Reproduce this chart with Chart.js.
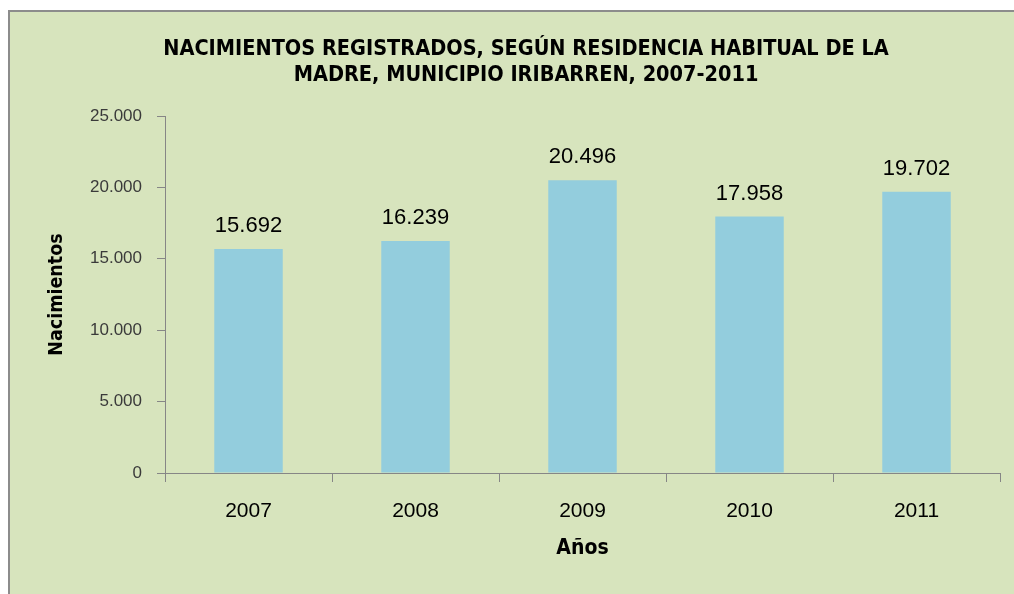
<!DOCTYPE html>
<html>
<head>
<meta charset="utf-8">
<script src="https://cdn.jsdelivr.net/npm/chart.js@4"></script>
<style>
  html, body { margin: 0; padding: 0; background: #fff; overflow: hidden; }
  #box {
    position: absolute; left: 8px; top: 10px;
    width: 1032px; height: 582px;
    border-left: 2px solid #8c8c8c; border-top: 2px solid #8c8c8c;
    background: #D7E4BD;
  }
</style>
</head>
<body>
<div id="box"><canvas id="births"></canvas></div>
<script>
// Nacimientos registrados, municipio Iribarren
const years = ['2007', '2008', '2009', '2010', '2011'];
const births = [15692, 16239, 20496, 17958, 19702];
const yTicks = [0, 5000, 10000, 15000, 20000, 25000];

const axisGrey = '#868686';
const narrow = '"Liberation Sans Narrow", "DejaVu Sans Condensed", sans-serif';
const sans = '"Liberation Sans", Arial, sans-serif';

function fmt(v) {
  return String(v).replace(/\B(?=(\d{3})+(?!\d))/g, '.');
}

// values above the bars
const valueLabels = {
  id: 'valueLabels',
  afterDatasetsDraw(chart) {
    const ctx = chart.ctx;
    const meta = chart.getDatasetMeta(0);
    ctx.save();
    ctx.font = '22px ' + sans;
    ctx.fillStyle = '#000';
    ctx.textAlign = 'center';
    ctx.textBaseline = 'alphabetic';
    meta.data.forEach((bar, i) => {
      ctx.fillText(fmt(births[i]), bar.x, bar.y - 17);
    });
    ctx.restore();
  }
};

// title is centred on the whole frame, not just the padded area
const wideTitle = {
  id: 'wideTitle',
  afterLayout(chart) {
    if (chart.titleBlock) chart.titleBlock.right = chart.width;
  }
};

new Chart(document.getElementById('births').getContext('2d'), {
  type: 'bar',
  data: {
    labels: years,
    datasets: [{
      data: births,
      backgroundColor: '#93CDDD',
      borderWidth: 0,
      categoryPercentage: 1,
      barPercentage: 0.41
    }]
  },
  options: {
    responsive: true,
    maintainAspectRatio: false,
    animation: false,
    layout: { padding: { left: 0, right: 42, top: 0, bottom: 0 } },
    plugins: {
      legend: { display: false },
      tooltip: { enabled: false },
      title: {
        display: true,
        text: ['NACIMIENTOS REGISTRADOS, SEGÚN RESIDENCIA HABITUAL DE LA',
               'MADRE, MUNICIPIO IRIBARREN, 2007-2011'],
        color: '#000',
        font: { family: narrow, size: 21.5, weight: 'bold', lineHeight: 26 / 21.5 },
        padding: { top: 24, bottom: 28 }
      }
    },
    scales: {
      x: {
        grid: { display: true, drawOnChartArea: false, drawTicks: true, tickLength: 9, color: axisGrey, offset: true },
        border: { display: true, color: axisGrey, width: 1 },
        ticks: { color: '#000', padding: 17, font: { family: sans, size: 21 } },
        title: {
          display: true, text: 'Años', color: '#000',
          font: { family: narrow, size: 21, weight: 'bold' },
          padding: { top: 0, bottom: 33 }
        },
        afterFit(scale) { scale.height = 121; }
      },
      y: {
        min: 0,
        max: 25000,
        afterBuildTicks(scale) { scale.ticks = yTicks.map(v => ({ value: v })); },
        grid: { display: true, drawOnChartArea: false, drawTicks: true, tickLength: 8, color: axisGrey },
        border: { display: true, color: axisGrey, width: 1 },
        ticks: {
          color: '#3a3a3a',
          padding: 15,
          font: { family: sans, size: 17 },
          callback: v => fmt(v)
        },
        title: {
          display: true, text: 'Nacimientos', color: '#000',
          font: { family: narrow, size: 19.5, weight: 'bold' },
          padding: { top: 35, bottom: 0 }
        },
        afterFit(scale) { scale.width = 155; }
      }
    }
  },
  plugins: [valueLabels, wideTitle]
});
</script>
</body>
</html>
